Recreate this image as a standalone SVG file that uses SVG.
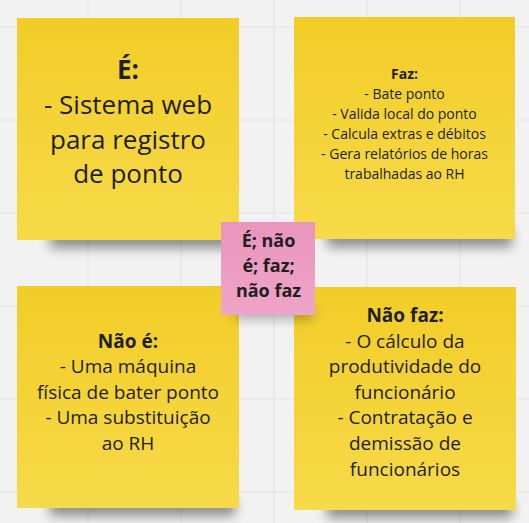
<svg xmlns="http://www.w3.org/2000/svg" width="529" height="523" viewBox="0 0 529 523">
<style>
  text { font-family: "Open Sans", "Noto Sans", "Liberation Sans", sans-serif; fill: #1f1f1f; text-anchor: middle; }
  .b { font-weight: bold; }
  .grid line { stroke: #e4e4e4; stroke-width: 1.2; }
  .shadow { fill: #000; opacity: 0.42; filter: url(#blur); }
</style>
<defs>
  <linearGradient id="yel" x1="0" y1="0" x2="0" y2="1">
    <stop offset="0" stop-color="#f2cd27"/>
    <stop offset="1" stop-color="#f7da49"/>
  </linearGradient>
  <linearGradient id="pink" x1="0" y1="0" x2="0" y2="1">
    <stop offset="0" stop-color="#ea95bd"/>
    <stop offset="1" stop-color="#eea5c7"/>
  </linearGradient>
  <filter id="blur" x="-20%" y="-100%" width="140%" height="300%">
    <feGaussianBlur stdDeviation="6"/>
  </filter>
</defs>
<rect width="529" height="523" fill="#f2f2f2"/>
<g class="grid">
  <line x1="88" y1="0" x2="88" y2="523"/>
  <line x1="181" y1="0" x2="181" y2="523"/>
  <line x1="274" y1="0" x2="274" y2="523"/>
  <line x1="367" y1="0" x2="367" y2="523"/>
  <line x1="460" y1="0" x2="460" y2="523"/>
  <line x1="0" y1="27" x2="529" y2="27"/>
  <line x1="0" y1="120" x2="529" y2="120"/>
  <line x1="0" y1="213" x2="529" y2="213"/>
  <line x1="0" y1="306" x2="529" y2="306"/>
  <line x1="0" y1="399" x2="529" y2="399"/>
  <line x1="0" y1="492" x2="529" y2="492"/>
</g>
<g id="connectors"></g>
<g id="note-e">
  <rect class="shadow" x="50" y="230" width="185" height="18"/>
  <rect x="17" y="18" width="222" height="222" fill="url(#yel)"/>
  <text x="128" y="79" font-size="26" class="b">É:</text>
  <text x="128" y="114" font-size="26">- Sistema web</text>
  <text x="128" y="148.5" font-size="26">para registro</text>
  <text x="128" y="183" font-size="26">de ponto</text>
</g>
<g id="note-faz">
  <rect class="shadow" x="327" y="229" width="185" height="18"/>
  <rect x="294" y="17" width="221" height="222" fill="url(#yel)"/>
  <text x="404.5" y="79" font-size="14" class="b">Faz:</text>
  <text x="404.5" y="99" font-size="14">- Bate ponto</text>
  <text x="404.5" y="119" font-size="14">- Valida local do ponto</text>
  <text x="404.5" y="139" font-size="14">- Calcula extras e débitos</text>
  <text x="404.5" y="159" font-size="14">- Gera relatórios de horas</text>
  <text x="404.5" y="179" font-size="14">trabalhadas ao RH</text>
</g>
<g id="note-nao-e">
  <rect class="shadow" x="50" y="498" width="185" height="18"/>
  <rect x="17" y="286" width="222" height="222" fill="url(#yel)"/>
  <text x="128" y="347.5" font-size="19" class="b">Não é:</text>
  <text x="128" y="373" font-size="19">- Uma máquina</text>
  <text x="128" y="398.5" font-size="19">física de bater ponto</text>
  <text x="128" y="424" font-size="19">- Uma substituição</text>
  <text x="128" y="450" font-size="19">ao RH</text>
</g>
<g id="note-nao-faz">
  <rect class="shadow" x="327" y="500" width="185" height="18"/>
  <rect x="294" y="287" width="222" height="223" fill="url(#yel)"/>
  <text x="405" y="321.5" font-size="19" class="b">Não faz:</text>
  <text x="405" y="347.5" font-size="19">- O cálculo da</text>
  <text x="405" y="373" font-size="19">produtividade do</text>
  <text x="405" y="398.5" font-size="19">funcionário</text>
  <text x="405" y="424" font-size="19">- Contratação e</text>
  <text x="405" y="450" font-size="19">demissão de</text>
  <text x="405" y="475.5" font-size="19">funcionários</text>
</g>
<g id="note-center">
  <rect class="shadow" x="235" y="307" width="78" height="12" style="opacity:0.3"/>
  <rect x="221" y="222" width="94" height="93" fill="url(#pink)"/>
  <text x="268.5" y="247" font-size="18" class="b">É; não</text>
  <text x="268.5" y="272" font-size="18" class="b">é; faz;</text>
  <text x="268.5" y="297" font-size="18" class="b">não faz</text>
</g>
</svg>
